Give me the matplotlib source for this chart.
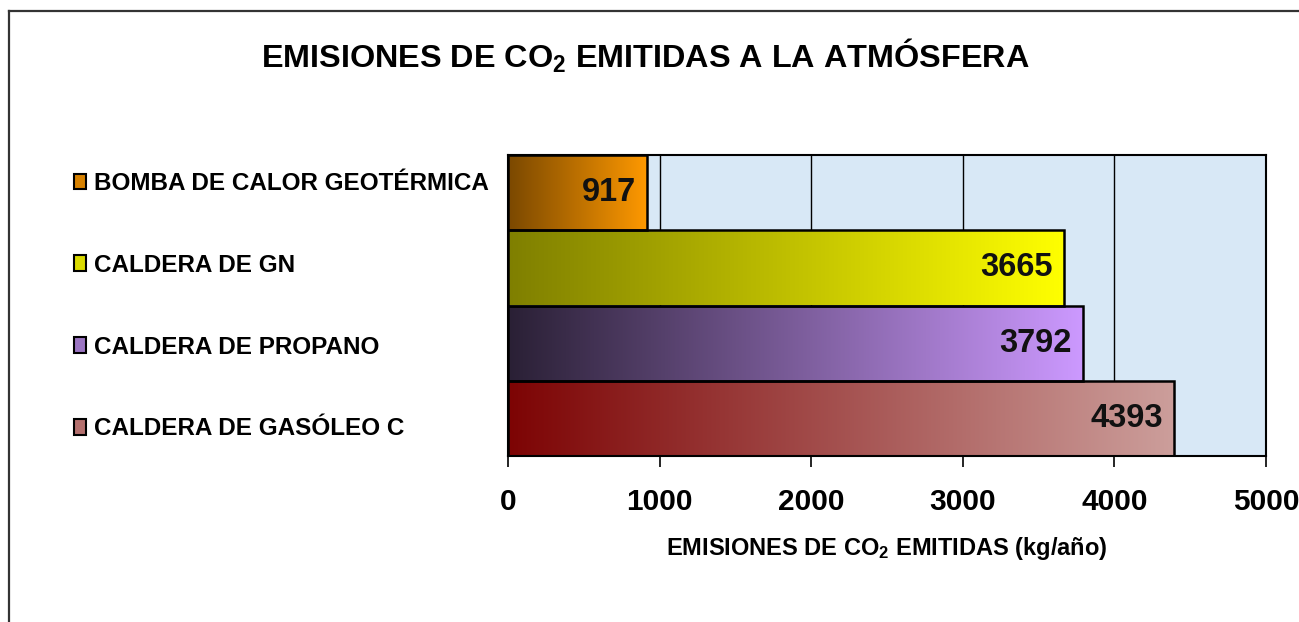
import numpy as np
import matplotlib
matplotlib.use("Agg")
import matplotlib.pyplot as plt
from matplotlib.patches import Patch
from matplotlib.lines import Line2D
from matplotlib.colors import LinearSegmentedColormap, to_rgb

# datos
categorias = ["BOMBA DE CALOR GEOTÉRMICA", "CALDERA DE GN",
              "CALDERA DE PROPANO", "CALDERA DE GASÓLEO C"]
emisiones = [917, 3665, 3792, 4393]
ticks_x = [0, 1000, 2000, 3000, 4000, 5000]

# colores (oscuro a la izquierda, claro en el extremo de la barra)
col_oscuro = ["#7a4800", "#7f7f00", "#2a2035", "#7d0404"]
col_claro = ["#ff9900", "#ffff00", "#cc99ff", "#cc9e9b"]

plt.rcParams['font.family'] = ['Liberation Sans', 'DejaVu Sans']
plt.rcParams['font.weight'] = 'bold'
plt.rcParams['mathtext.fontset'] = 'custom'
plt.rcParams['mathtext.rm'] = 'Liberation Sans:bold'
plt.rcParams['mathtext.bf'] = 'Liberation Sans:bold'
plt.rcParams['mathtext.default'] = 'rm'

fig = plt.figure(figsize=(12.99, 6.22), dpi=100)
ax = fig.add_axes([508/1299, 1 - 456/622, (1266 - 508)/1299, (456 - 155)/622])
ax.set_facecolor("#d8e8f6")

ypos = np.arange(len(categorias))[::-1]
barras = ax.barh(ypos, emisiones, height=1.0, color="none",
                 edgecolor="black", linewidth=1.8, zorder=3)

grad = np.linspace(0, 1, 256).reshape(1, -1)
for p, c0, c1 in zip(barras.patches, col_oscuro, col_claro):
    x0, y0 = p.get_x(), p.get_y()
    w, h = p.get_width(), p.get_height()
    cmap = LinearSegmentedColormap.from_list("g", [c0, c1])
    im = ax.imshow(grad, extent=[x0, x0 + w, y0, y0 + h], aspect="auto",
                   cmap=cmap, zorder=2, interpolation="bilinear")
    im.set_clip_path(p)

for y, v in zip(ypos, emisiones):
    ax.annotate(str(v), (v, y), xytext=(-8, 0), textcoords="offset points",
                ha="right", va="center", fontsize=23.5, fontweight="bold",
                color="#111111", zorder=4)

ax.set_xlim(0, 5000)
ax.set_ylim(-0.5, len(categorias) - 0.5)
ax.set_xticks(ticks_x)
ax.set_yticks([])
ax.xaxis.grid(True, color="black", linewidth=1.0)
ax.set_axisbelow(True)
for s in ax.spines.values():
    s.set_color("black")
    s.set_linewidth(1.5)
ax.tick_params(axis="x", direction="out", length=8, width=1.2, pad=15,
               labelsize=21.5, colors="black")
for t in ax.get_xticklabels():
    t.set_fontweight("bold")
ax.set_xlabel("EMISIONES DE CO$_2$ EMITIDAS (kg/año)", fontsize=17,
              fontweight="bold", labelpad=14)

fig.text(645/1299, 1 - 68/622, "EMISIONES DE CO$_2$ EMITIDAS A LA ATMÓSFERA",
         ha="center", va="baseline", fontsize=23.3, fontweight="bold")

# leyenda
def mezcla(a, b, f):
    a, b = np.array(to_rgb(a)), np.array(to_rgb(b))
    return tuple(a + (b - a) * f)

handles = [Patch(facecolor=mezcla(c0, c1, 0.7), edgecolor="black", linewidth=1.5)
           for c0, c1 in zip(col_oscuro, col_claro)]
fig.legend(handles, categorias, loc="upper left",
           bbox_to_anchor=(74/1299, 1 - 172/622), frameon=False,
           handlelength=0.5, handleheight=0.62, handletextpad=0.33,
           labelspacing=2.42, borderpad=0, borderaxespad=0,
           prop={"size": 17.5, "weight": "bold"})

# marco
fig.add_artist(Line2D([9/1299, 9/1299], [0, 1 - 11/622], color="#333333", linewidth=1.6))
fig.add_artist(Line2D([9/1299, 1], [1 - 11/622, 1 - 11/622], color="#333333", linewidth=1.6))

fig.savefig("out.png", dpi=100, facecolor="white")
